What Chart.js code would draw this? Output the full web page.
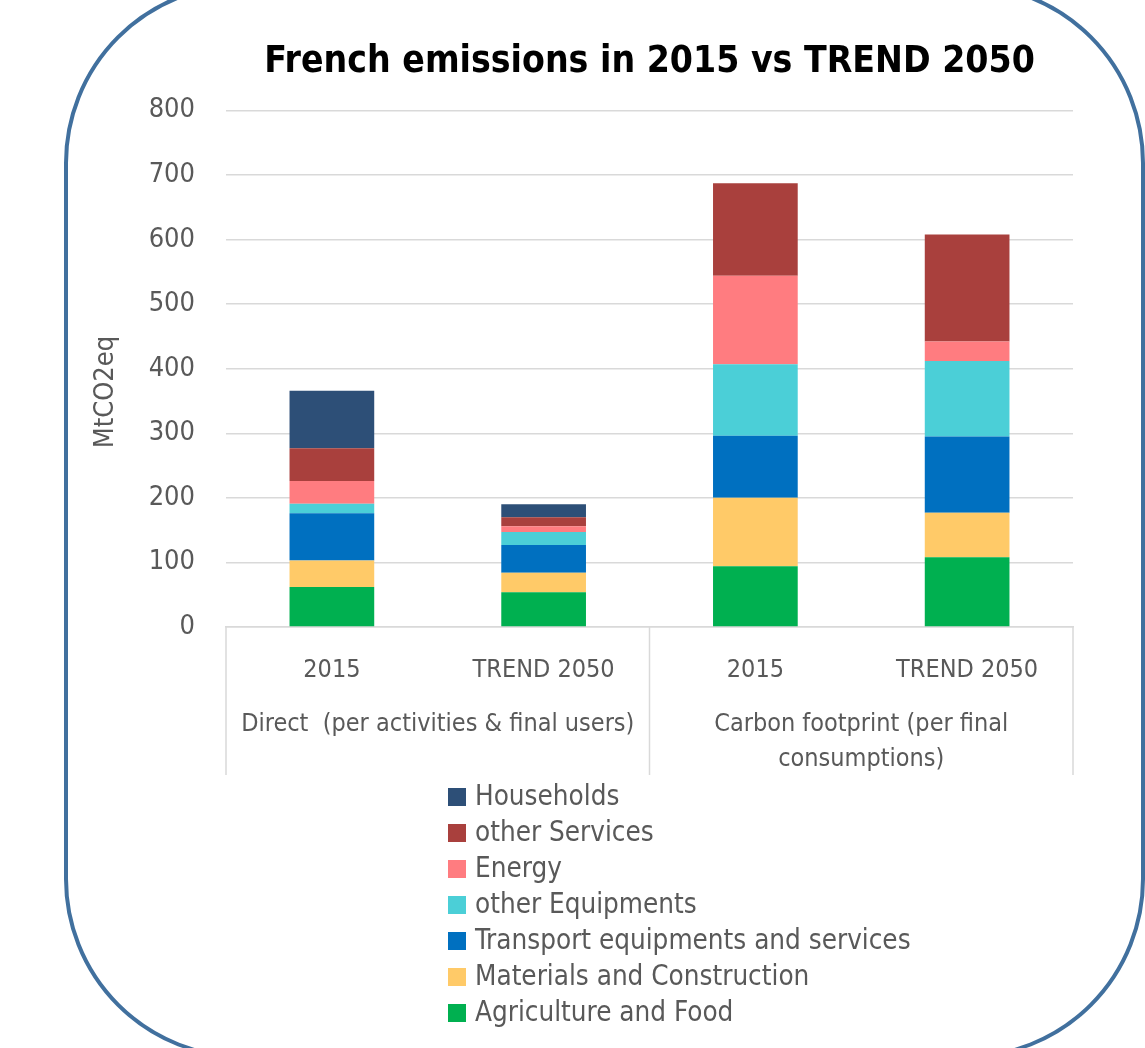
<!DOCTYPE html>
<html>
<head>
<meta charset="utf-8">
<script src="https://cdn.jsdelivr.net/npm/chart.js@4"></script>
<style>
  html, body { margin: 0; padding: 0; background: #fff; }
  #wrap { position: relative; width: 1145px; height: 1048px; overflow: hidden; }
  #frame {
    position: absolute; left: 64px; top: -17px; width: 1073px; height: 1068px;
    border: 4px solid #41709e; border-radius: 180px; pointer-events: none;
  }
  #legend {
    position: absolute; left: 448px; top: 778px; margin: 0; padding: 0; list-style: none;
    font-family: "DejaVu Sans Condensed", sans-serif;
    font-size: 27.6px; color: #595959;
  }
  #legend li { height: 36px; line-height: 36px; white-space: nowrap; }
  #legend span.box { display: inline-block; width: 18px; height: 18px; margin-right: 9px; vertical-align: -1px; }
</style>
</head>
<body>
<div id="wrap">
  <canvas id="chart" width="1145" height="1048"></canvas>
  <ul id="legend"></ul>
  <div id="frame"></div>
</div>
<script>
// Daten
const categories = ['2015', 'TREND 2050', '2015', 'TREND 2050'];
const groups = [['Direct  (per activities & final users)'], ['Carbon footprint (per final', 'consumptions)']];
const agricultureFood = [62, 54, 94, 108];
const materialsConstruction = [41, 30, 106, 69];
const transportServices = [73, 43, 96, 118];
const otherEquipments = [15, 20, 111, 117];
const energy = [35, 9, 137, 30];
const otherServices = [51, 14, 143, 166];
const households = [89, 20, 0, 0];
const yTicks = [0, 100, 200, 300, 400, 500, 600, 700, 800];

const FONT = '"DejaVu Sans Condensed", sans-serif';
const GREY = '#595959';
const LINE = '#d9d9d9';

// Gruppen-Beschriftung, Trennlinien und y-Titel
const groupAxis = {
    id: 'groupAxis',
    afterDraw(chart) {
        const ctx = chart.ctx;
        const x = chart.scales.x;
        const bottom = chart.chartArea.bottom;
        const mid = (x.getPixelForTick(1) + x.getPixelForTick(2)) / 2;
        const edges = [x.left, mid, x.right];
        ctx.save();
        ctx.strokeStyle = LINE;
        ctx.lineWidth = 1.5;
        edges.forEach(px => {
            ctx.beginPath();
            ctx.moveTo(px, bottom);
            ctx.lineTo(px, bottom + 148);
            ctx.stroke();
        });
        ctx.fillStyle = GREY;
        ctx.font = '25px ' + FONT;
        ctx.textAlign = 'center';
        ctx.textBaseline = 'middle';
        groups.forEach((lines, i) => {
            const cx = (edges[i] + edges[i + 1]) / 2;
            lines.forEach((t, j) => ctx.fillText(t, cx, bottom + 97 + j * 35));
        });
        // y-Achsentitel (etwas unter der Mitte wie im Original)
        ctx.font = '27px ' + FONT;
        ctx.translate(106, 392);
        ctx.rotate(-Math.PI / 2);
        ctx.fillText('MtCO2eq', 0, 0);
        ctx.restore();
    }
};

const chart = new Chart(document.getElementById('chart'), {
    type: 'bar',
    data: {
        labels: categories,
        datasets: [
            { label: 'Agriculture and Food', data: agricultureFood, backgroundColor: '#00b050' },
            { label: 'Materials and Construction', data: materialsConstruction, backgroundColor: '#ffca68' },
            { label: 'Transport equipments and services', data: transportServices, backgroundColor: '#0070c0' },
            { label: 'other Equipments', data: otherEquipments, backgroundColor: '#4bcfd7' },
            { label: 'Energy', data: energy, backgroundColor: '#ff7c80' },
            { label: 'other Services', data: otherServices, backgroundColor: '#a9403d' },
            { label: 'Households', data: households, backgroundColor: '#2d4f77' }
        ]
    },
    options: {
        responsive: false,
        animation: false,
        barPercentage: 0.4,
        categoryPercentage: 1.0,
        layout: { padding: { left: 80, right: 72, top: 0, bottom: 271 } },
        plugins: {
            legend: { display: false },
            tooltip: { enabled: false },
            title: {
                display: true,
                fullSize: false,
                text: 'French emissions in 2015 vs TREND 2050',
                color: '#000',
                font: { family: FONT, size: 37, weight: 'bold' },
                padding: { top: 40, bottom: 26 }
            }
        },
        scales: {
            x: {
                stacked: true,
                grid: { display: false },
                border: { display: true, color: LINE, width: 1.5 },
                ticks: { color: GREY, font: { family: FONT, size: 25 }, padding: 20, maxRotation: 0 },
                afterFit(scale) { scale.height = 150; }
            },
            y: {
                stacked: true,
                min: 0,
                max: 800,
                afterBuildTicks(scale) { scale.ticks = yTicks.map(v => ({ value: v })); },
                grid: { color: LINE, lineWidth: 1.5, drawTicks: false },
                border: { display: false },
                ticks: { color: GREY, font: { family: FONT, size: 27 }, padding: 31 },
                afterFit(scale) { scale.width = 146; }
            }
        }
    },
    plugins: [groupAxis]
});

// Legende (umgekehrte Reihenfolge wie im Original)
const legendList = document.getElementById('legend');
legendList.innerHTML = chart.data.datasets.slice().reverse().map(ds => `
    <li><span class="box" style="background:${ds.backgroundColor}"></span>${ds.label}</li>
`).join('');
</script>
</body>
</html>
